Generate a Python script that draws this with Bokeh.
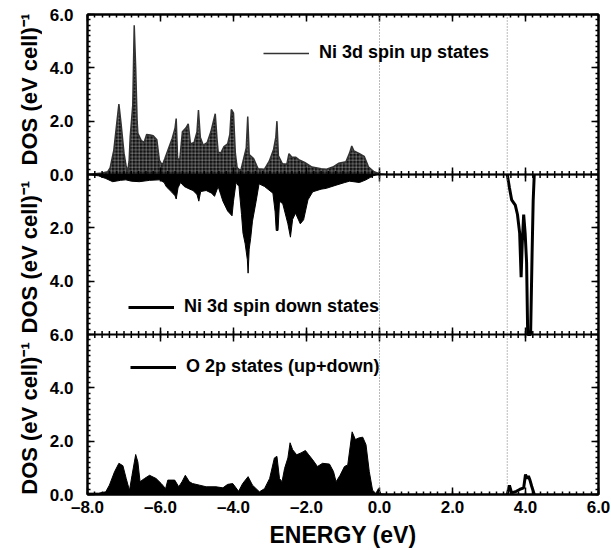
import numpy as np
from bokeh.plotting import figure
from bokeh.layouts import row
from bokeh.models import (Range1d, LinearAxis, FixedTicker, Span,
                          Legend, LegendItem)
from bokeh.core.properties import value
from bokeh.embed import file_html
from bokeh.resources import INLINE

# ---------------- data ----------------
up_energy = [-8.0, -7.6, -7.45, -7.38, -7.28, -7.2, -7.14, -7.08, -7.0, -6.94, -6.9, -6.86,
             -6.83, -6.76, -6.72, -6.68, -6.64, -6.62, -6.53, -6.45, -6.38, -6.28, -6.2, -6.1,
             -6.03, -5.95, -5.88, -5.8, -5.68, -5.6, -5.57, -5.53, -5.47, -5.4, -5.3, -5.24,
             -5.18, -5.08, -5.0, -4.96, -4.91, -4.83, -4.72, -4.62, -4.5, -4.45, -4.42, -4.35,
             -4.26, -4.16, -4.1, -4.06, -4.0, -3.95, -3.9, -3.8, -3.72, -3.65, -3.61, -3.57,
             -3.45, -3.33, -3.15, -3.02, -2.9, -2.84, -2.81, -2.77, -2.66, -2.54, -2.48, -2.4,
             -2.3, -2.2, -2.05, -1.85, -1.6, -1.45, -1.28, -1.12, -0.92, -0.82, -0.76, -0.7,
             -0.55, -0.42, -0.3, -0.15, 0.0, 0.2, 6.0]
up_dos = [0.0, 0.06, 0.1, 0.25, 0.9, 1.9, 2.64, 1.9, 0.8, 0.3, 0.1, 0.5,
          1.41, 2.6, 5.6, 4.0, 2.0, 1.54, 1.28, 1.2, 1.5, 1.48, 1.45, 1.3,
          0.53, 0.35, 0.6, 0.9, 1.35, 1.75, 2.1, 0.55, 0.6, 1.6, 1.75, 1.9,
          1.15, 1.2, 1.6, 2.42, 1.4, 1.1, 1.2, 1.6, 2.28, 1.3, 0.85, 0.8,
          1.05, 1.15, 1.5, 2.44, 2.3, 0.8, 0.25, 0.15, 0.6, 1.0, 2.17, 0.75,
          0.6, 0.22, 0.2, 0.5, 0.95, 1.4, 2.0, 0.7, 0.4, 0.38, 0.78, 0.65,
          0.65, 0.55, 0.45, 0.28, 0.22, 0.2, 0.28, 0.42, 0.48, 0.8, 1.07, 0.88,
          0.78, 0.68, 0.28, 0.1, 0.03, 0.0, 0.0]

down_energy = [-8.0, -7.7, -7.5, -7.31, -7.1, -6.95, -6.8, -6.58, -6.3, -6.03, -5.9, -5.84,
               -5.7, -5.6, -5.57, -5.52, -5.45, -5.35, -5.2, -5.11, -5.0, -4.95, -4.9, -4.75,
               -4.6, -4.52, -4.42, -4.35, -4.29, -4.16, -4.04, -4.0, -3.93, -3.85, -3.78, -3.74,
               -3.68, -3.62, -3.6, -3.57, -3.53, -3.48, -3.38, -3.3, -3.15, -2.92, -2.86, -2.83,
               -2.78, -2.74, -2.65, -2.51, -2.44, -2.38, -2.3, -2.17, -2.08, -1.96, -1.83, -1.6,
               -1.46, -1.19, -0.95, -0.82, -0.55, -0.37, -0.18, -0.05, 6.0]
down_dos = [0.0, 0.05, 0.15, 0.27, 0.22, 0.2, 0.25, 0.27, 0.22, 0.2, 0.3, 0.46,
            0.65, 0.8, 0.92, 0.5, 0.3, 0.45, 0.55, 0.6, 0.75, 1.0, 0.64, 0.6,
            0.7, 0.82, 0.45, 0.75, 1.0, 1.37, 1.55, 1.0, 0.3, 0.45, 1.5, 2.2,
            2.6, 3.2, 3.7, 2.8, 2.4, 1.75, 1.0, 0.35, 0.45, 0.7, 1.4, 2.1,
            2.1, 1.0, 1.1, 1.85, 2.35, 1.68, 1.45, 1.85, 1.7, 0.95, 0.65, 0.55,
            0.52, 0.4, 0.3, 0.25, 0.3, 0.2, 0.05, 0.0, 0.0]

down_cb_energy = [3.50, 3.56, 3.62, 3.72, 3.78, 3.84, 3.88, 3.91, 3.95, 3.99, 4.03, 4.06,
                  4.14, 4.18, 4.21, 4.24]
down_cb_dos = [0.0, 0.5, 0.95, 1.15, 1.5, 2.2, 3.85, 2.6, 1.5, 2.2, 3.3, 6.0,
               6.0, 3.0, 1.0, 0.0]

o2p_energy = [-8.0, -7.7, -7.5, -7.4, -7.26, -7.14, -7.03, -6.94, -6.85, -6.78, -6.68, -6.62,
              -6.56, -6.44, -6.3, -6.12, -5.98, -5.86, -5.8, -5.61, -5.5, -5.41, -5.32, -5.21,
              -5.12, -4.93, -4.75, -4.48, -4.29, -4.16, -4.02, -3.86, -3.75, -3.6, -3.48, -3.29,
              -3.15, -3.01, -2.88, -2.81, -2.74, -2.67, -2.6, -2.51, -2.45, -2.38, -2.27, -2.15,
              -2.03, -1.94, -1.83, -1.7, -1.56, -1.37, -1.26, -1.19, -1.08, -0.96, -0.87, -0.75,
              -0.66, -0.57, -0.46, -0.37, -0.28, -0.19, -0.1, -0.03, 0.04, 0.2]
o2p_dos = [0.05, 0.05, 0.1, 0.35, 0.85, 1.17, 1.08, 0.6, 0.15, 0.72, 1.5, 1.22,
           0.48, 0.6, 0.72, 0.6, 0.41, 0.22, 0.54, 0.54, 0.29, 0.48, 0.72, 0.48,
           0.41, 0.35, 0.29, 0.29, 0.25, 0.38, 0.41, 0.12, 0.41, 0.67, 0.35, 0.1,
           0.22, 0.6, 1.37, 1.43, 0.6, 0.48, 0.98, 1.37, 1.94, 1.68, 1.49, 1.56,
           1.65, 1.49, 1.3, 1.05, 1.17, 1.14, 0.86, 0.48, 0.72, 1.05, 1.11, 2.35,
           2.06, 2.12, 2.15, 1.87, 0.86, 0.16, 0.04, 0.22, 0.02, 0.0]

o2p_cb_energy = [3.50, 3.56, 3.62, 3.75, 3.84, 3.95, 4.00, 4.04, 4.08, 4.12, 4.17, 4.24]
o2p_cb_dos = [0.0, 0.34, 0.06, 0.12, 0.19, 0.25, 0.75, 0.6, 0.69, 0.55, 0.31, 0.0]

x_ticks = [-8, -6, -4, -2, 0, 2, 4, 6]
x_tick_labels = ["\u20138.0", "\u20136.0", "\u20134.0", "\u20132.0", "0.0", "2.0", "4.0", "6.0"]
y_ticks = [0, 2, 4, 6]
y_tick_labels = ["0.0", "2.0", "4.0", "6.0"]
mid_y_ticks = [2, 4]
mid_y_tick_labels = ["2.0", "4.0"]

legend_labels = ["Ni 3d spin up states", "Ni 3d spin down states", "O 2p states (up+down)"]
y_title = "DOS (eV cell)\u207b\u00b9"
x_title = "ENERGY (eV)"
fermi_lines = [0.0, 3.5]

FONT = "Liberation Sans"
W, H = 611, 550
SIDE = 42          # width of the strip that carries the rotated y titles
TOP, BOTTOM = 14, 56

# ---------------- main figure ----------------
p = figure(width=W - SIDE, height=H, x_range=Range1d(-8, 6), y_range=Range1d(0, 18),
           output_backend="svg", toolbar_location=None,
           min_border_left=87 - SIDE, min_border_right=13, min_border_top=TOP,
           min_border_bottom=BOTTOM)
p.background_fill_color = "white"
p.border_fill_color = "white"
p.outline_line_color = "black"
p.outline_line_width = 2
p.grid.visible = False

# named ranges for the three panels (each occupies a third of the frame)
p.extra_y_ranges = {"up": Range1d(-12, 6), "down": Range1d(12, -6)}


def to_frame(v, rng):
    main = p.y_range
    return main.start + (v - rng.start) / (rng.end - rng.start) * (main.end - main.start)


# ---- axes ----
x_minor = list(np.round(np.arange(-8, 6.001, 0.2), 3))
x_ticker = FixedTicker(ticks=x_ticks, minor_ticks=x_minor)
y_major = sorted(set([to_frame(v, p.y_range) for v in y_ticks] +
                     [to_frame(v, p.extra_y_ranges["down"]) for v in mid_y_ticks] +
                     [to_frame(v, p.extra_y_ranges["up"]) for v in y_ticks]))
y_minor = list(np.round(np.arange(0, 18.001, 0.2), 3))
y_ticker = FixedTicker(ticks=y_major, minor_ticks=y_minor)

y_over = {}
for v, lab in zip(y_ticks, y_tick_labels):
    y_over[float(to_frame(v, p.y_range))] = lab
    y_over[float(to_frame(v, p.extra_y_ranges["up"]))] = lab
for v, lab in zip(mid_y_ticks, mid_y_tick_labels):
    y_over[float(to_frame(v, p.extra_y_ranges["down"]))] = lab
x_over = {float(v): lab for v, lab in zip(x_ticks, x_tick_labels)}


def style_axis(ax, labels=True):
    ax.axis_line_width = 2
    ax.axis_line_color = "black"
    ax.major_tick_in = 7
    ax.major_tick_out = 0
    ax.minor_tick_in = 3
    ax.minor_tick_out = 0
    ax.major_tick_line_width = 1.5
    ax.minor_tick_line_width = 1.5
    ax.major_tick_line_color = "black"
    ax.minor_tick_line_color = "black"
    if labels:
        ax.major_label_text_font = FONT
        ax.major_label_text_font_style = "bold"
        ax.major_label_text_font_size = "17px"
        ax.major_label_text_color = "black"
        ax.major_label_standoff = 3
    else:
        ax.major_label_text_font_size = "0px"
        ax.major_label_standoff = 0


xb = p.xaxis[0]
xb.ticker = x_ticker
xb.major_label_overrides = x_over
style_axis(xb)
xb.axis_label = x_title
xb.axis_label_text_font = FONT
xb.axis_label_text_font_style = "bold"
xb.axis_label_text_font_size = "23px"
xb.axis_label_text_color = "black"
xb.axis_label_standoff = 2

yl = p.yaxis[0]
yl.ticker = y_ticker
yl.major_label_overrides = y_over
style_axis(yl)
yl.major_label_standoff = 14

xa = LinearAxis(ticker=x_ticker)
style_axis(xa, labels=False)
p.add_layout(xa, "above")

yr = LinearAxis(ticker=y_ticker)
style_axis(yr, labels=False)
p.add_layout(yr, "right")

# ---- data renderers ----
p.varea(x=up_energy, y1=0, y2=up_dos, y_range_name="up",
        fill_color="#111111", hatch_pattern="+", hatch_color="white",
        hatch_scale=3.5, hatch_weight=0.8, hatch_alpha=0.4)
up_line = p.line(up_energy, up_dos, y_range_name="up", line_color="#333333", line_width=1.5)

p.varea(x=down_energy, y1=0, y2=down_dos, y_range_name="down", fill_color="black")
p.line(down_energy, down_dos, y_range_name="down", line_color="black", line_width=1)
down_cb = p.line(down_cb_energy, down_cb_dos, y_range_name="down",
                 line_color="black", line_width=3)

p.varea(x=o2p_energy, y1=0, y2=o2p_dos, fill_color="black")
p.line(o2p_energy, o2p_dos, line_color="black", line_width=1)
o2p_cb = p.line(o2p_cb_energy, o2p_cb_dos, line_color="black", line_width=3)

# ---- reference lines ----
for e in fermi_lines:
    p.add_layout(Span(location=e, dimension="height", line_color="#777777",
                      line_width=1, line_dash="1 2"))
p.add_layout(Span(location=0, dimension="width", y_range_name="up",
                  line_color="black", line_width=2))
p.add_layout(Span(location=6, dimension="width", line_color="black", line_width=2))

# tick marks across the panel boundaries
for yv, rn in [(0, "up"), (6, "default")]:
    p.scatter(x=x_minor, y=[yv] * len(x_minor), y_range_name=rn, marker="dash",
              angle=np.pi / 2, size=7, line_color="black", line_width=1.5)
    p.scatter(x=x_ticks, y=[yv] * len(x_ticks), y_range_name=rn, marker="dash",
              angle=np.pi / 2, size=14, line_color="black", line_width=1.5)


# ---- legends ----
def add_legend(label, rend, loc):
    lg = Legend(items=[LegendItem(label=label, renderers=[rend])], location=loc,
                glyph_width=46, glyph_height=20, label_standoff=10, padding=0, margin=0,
                spacing=0, border_line_alpha=0, background_fill_alpha=0,
                label_text_font=FONT, label_text_font_style="bold",
                label_text_font_size="18px", label_text_color="black")
    p.add_layout(lg, "center")


add_legend(legend_labels[0], up_line, (176, 431))
add_legend(legend_labels[1], down_cb, (41, 177))
add_legend(legend_labels[2], o2p_cb, (43, 117))

# ---------------- side strip with the three rotated y titles ----------------
# its frame spans exactly the same rows as the main frame; the title range is
# the same three stacked panels
s = figure(width=SIDE, height=H, x_range=Range1d(0, SIDE), y_range=Range1d(0, 18),
           output_backend="svg", toolbar_location=None, x_axis_type=None, y_axis_type=None,
           min_border_left=0, min_border_right=0, min_border_top=TOP,
           min_border_bottom=BOTTOM)
s.outline_line_color = None
s.grid.visible = False
s.background_fill_color = "white"
s.border_fill_color = "white"
s.extra_y_ranges = {"up": Range1d(-12, 6), "down": Range1d(12, -6)}
for yv, rn in [(3.2, "up"), (3.1, "down"), (2.85, "default")]:
    s.text(x=[29], y=[yv], y_range_name=rn, text=[y_title], angle=np.pi / 2,
           text_align="center", text_baseline="middle", text_font=value(FONT),
           text_font_style="bold", text_font_size="22px", text_color="black")

layout = row(s, p, spacing=0)
open("out.html", "w").write(file_html(layout, INLINE))
